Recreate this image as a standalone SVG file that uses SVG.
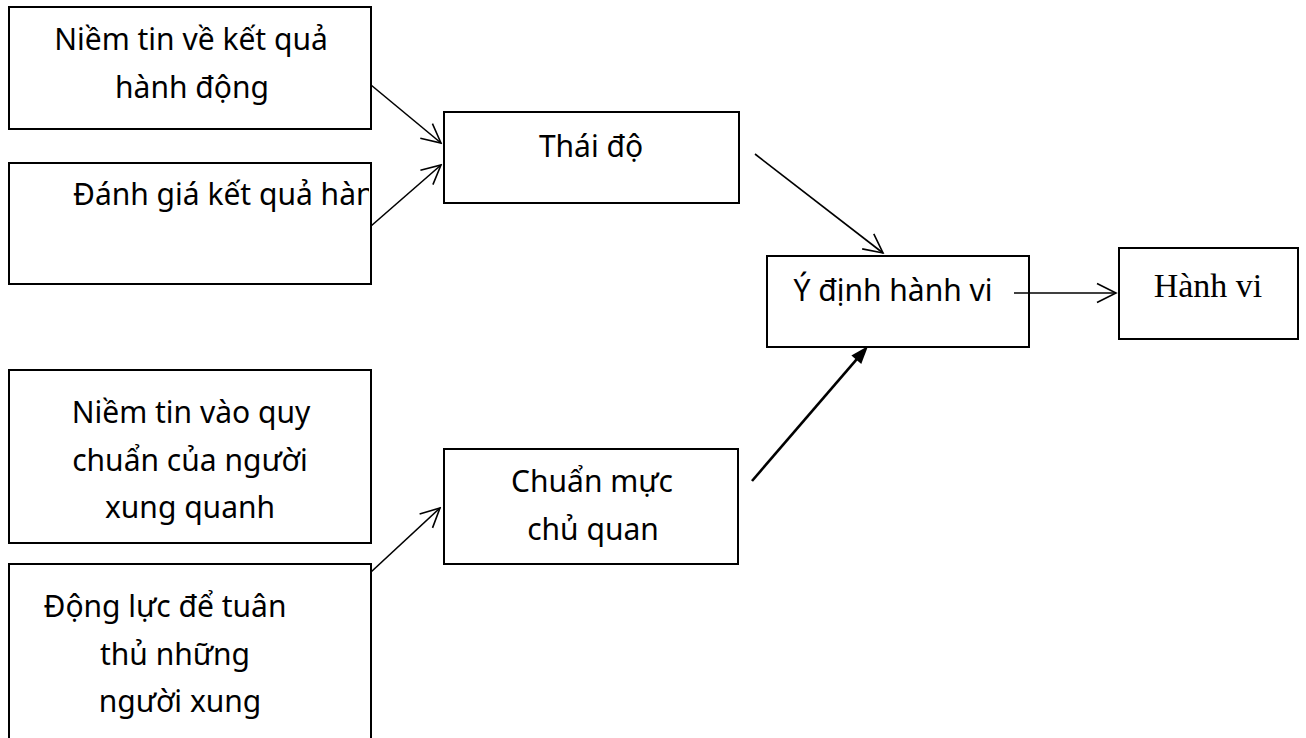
<svg xmlns="http://www.w3.org/2000/svg" width="1306" height="738" viewBox="0 0 1306 738">
  <style>
    .box { fill: #fff; stroke: #000; stroke-width: 2; }
    .lbl { font-family: "Noto Sans", "Open Sans", sans-serif; font-size: 30px; fill: #000; }
    .serif { font-family: "Liberation Serif", "Times New Roman", serif; font-size: 34px; fill: #000; }
    .mid { text-anchor: middle; }
    .edge { fill: none; stroke: #000; stroke-width: 1.6; }
    .edge-bold { fill: none; stroke: #000; stroke-width: 2.6; }
  </style>
  <defs>
    <marker id="open" markerUnits="userSpaceOnUse" viewBox="-22 -12 24 24" refX="0" refY="0" markerWidth="24" markerHeight="24" orient="auto">
      <path d="M-19,-9.5 L0,0 L-19,9.5" fill="none" stroke="#000" stroke-width="1.6" stroke-linejoin="miter"/>
    </marker>
    <marker id="solid" markerUnits="userSpaceOnUse" viewBox="-14 -10 24 20" refX="0" refY="0" markerWidth="24" markerHeight="20" orient="auto">
      <path d="M-11,-6.5 L7,0 L-11,6.5 Z" fill="#000"/>
    </marker>
    <clipPath id="clip-b2"><rect x="10" y="164" width="359" height="119"/></clipPath>
  </defs>

  <rect width="1306" height="738" fill="#fff"/>

  <!-- beliefs about outcomes -->
  <g id="node-niem-tin-ket-qua">
    <rect class="box" x="9" y="7" width="362" height="122"/>
    <text class="lbl mid" x="191" y="50">Niềm tin về kết quả</text>
    <text class="lbl mid" x="192" y="98">hành động</text>
  </g>

  <!-- evaluation of outcomes -->
  <g id="node-danh-gia">
    <rect class="box" x="9" y="163" width="362" height="121"/>
    <text class="lbl" x="73" y="205" clip-path="url(#clip-b2)">Đánh giá kết quả hàn</text>
  </g>

  <!-- normative beliefs -->
  <g id="node-niem-tin-quy-chuan">
    <rect class="box" x="9" y="370" width="362" height="173"/>
    <text class="lbl mid" x="191" y="423">Niềm tin vào quy</text>
    <text class="lbl mid" x="190" y="471">chuẩn của người</text>
    <text class="lbl mid" x="190" y="518">xung quanh</text>
  </g>

  <!-- motivation to comply -->
  <g id="node-dong-luc">
    <rect class="box" x="9" y="564" width="362" height="200"/>
    <text class="lbl mid" x="165" y="617">Động lực để tuân</text>
    <text class="lbl mid" x="175" y="665">thủ những</text>
    <text class="lbl mid" x="180" y="712">người xung</text>
  </g>

  <!-- attitude -->
  <g id="node-thai-do">
    <rect class="box" x="444" y="112" width="295" height="91"/>
    <text class="lbl mid" x="591" y="157">Thái độ</text>
  </g>

  <!-- subjective norm -->
  <g id="node-chuan-muc">
    <rect class="box" x="444" y="449" width="294" height="115"/>
    <text class="lbl mid" x="592" y="492">Chuẩn mực</text>
    <text class="lbl mid" x="593" y="540">chủ quan</text>
  </g>

  <!-- behavioural intention -->
  <g id="node-y-dinh">
    <rect class="box" x="767" y="256" width="262" height="91"/>
    <text class="lbl mid" x="893" y="301">Ý định hành vi</text>
  </g>

  <!-- behaviour -->
  <g id="node-hanh-vi">
    <rect class="box" x="1119" y="248" width="179" height="91"/>
    <text class="serif mid" x="1208" y="297">Hành vi</text>
  </g>

  <!-- connectors (drawn last so lines starting inside a box stay visible) -->
  <g id="connectors">
    <line class="edge" x1="371" y1="85" x2="441" y2="143" marker-end="url(#open)"/>
    <line class="edge" x1="371" y1="226" x2="441" y2="165" marker-end="url(#open)"/>
    <line class="edge" x1="755" y1="154" x2="883" y2="253" marker-end="url(#open)"/>
    <line class="edge" x1="1014" y1="293" x2="1116" y2="293" marker-end="url(#open)"/>
    <line class="edge" x1="371" y1="572" x2="440" y2="508" marker-end="url(#open)"/>
    <line class="edge-bold" x1="752" y1="481" x2="863.5" y2="351.3" marker-end="url(#solid)"/>
  </g>
</svg>
